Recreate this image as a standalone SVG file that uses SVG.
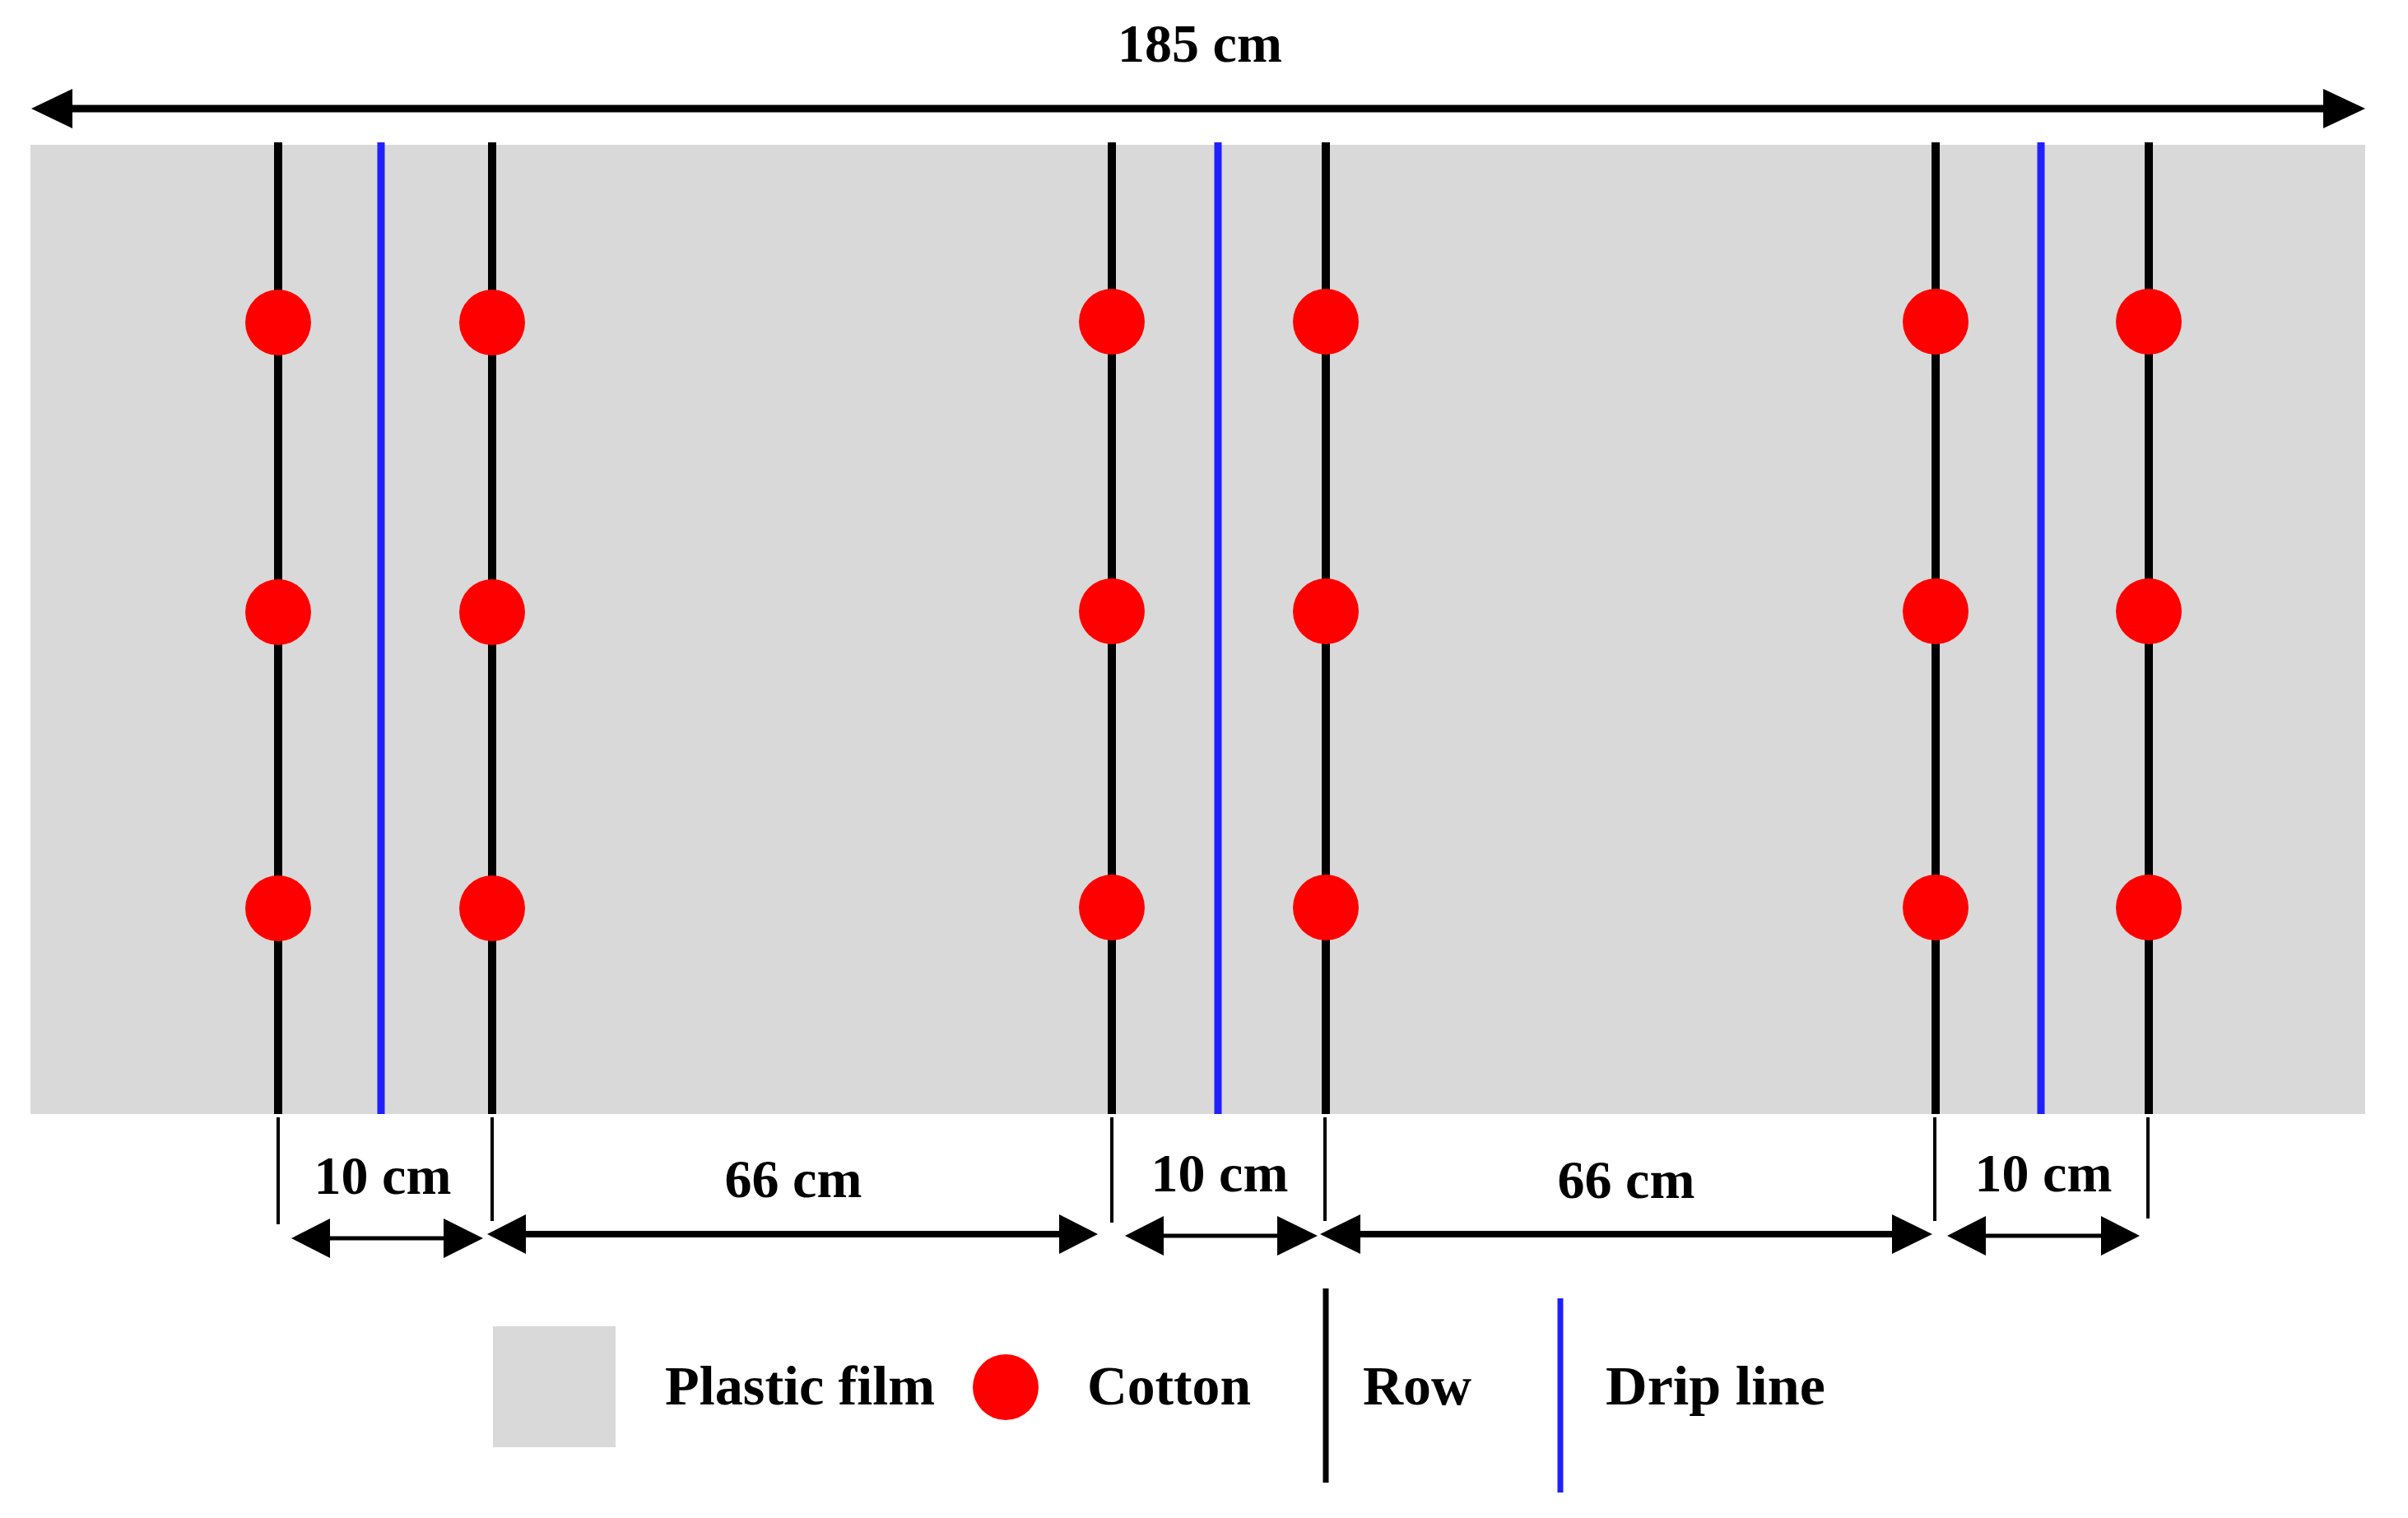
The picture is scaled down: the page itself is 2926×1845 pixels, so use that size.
<svg xmlns="http://www.w3.org/2000/svg" width="2926" height="1845" viewBox="0 0 2926 1845">
<defs>
<style>
.row{stroke:#000;stroke-width:10;fill:none}
.drip{stroke:#2020ff;stroke-width:9;fill:none}
.ext{stroke:#000;stroke-width:4;fill:none}
.cot{fill:#ff0000}
.film{fill:#d9d9d9}
.lbl{font-family:"Liberation Serif","Times New Roman",serif;font-weight:bold;font-size:66px;fill:#000}
.leg{font-family:"Liberation Serif","Times New Roman",serif;font-weight:bold;font-size:68px;fill:#000}
.ah{fill:#000}
</style>
</defs>
<rect width="2926" height="1845" fill="#fff"/>
<g id="plastic-film">
<rect class="film" x="37" y="176" width="2837" height="1178"/>
</g>
<g id="rows">
<line class="row" x1="338" y1="173" x2="338" y2="1354"/>
<line class="row" x1="598" y1="173" x2="598" y2="1354"/>
<line class="row" x1="1351" y1="173" x2="1351" y2="1354"/>
<line class="row" x1="1611" y1="173" x2="1611" y2="1354"/>
<line class="row" x1="2352" y1="173" x2="2352" y2="1354"/>
<line class="row" x1="2611" y1="173" x2="2611" y2="1354"/>
</g>
<g id="drip-lines">
<line class="drip" x1="463" y1="173" x2="463" y2="1354"/>
<line class="drip" x1="1480" y1="173" x2="1480" y2="1354"/>
<line class="drip" x1="2480" y1="173" x2="2480" y2="1354"/>
</g>
<g id="cotton">
<circle class="cot" cx="338" cy="392" r="40"/><circle class="cot" cx="598" cy="392" r="40"/>
<circle class="cot" cx="1351" cy="391" r="40"/><circle class="cot" cx="1611" cy="391" r="40"/>
<circle class="cot" cx="2352" cy="391" r="40"/><circle class="cot" cx="2611" cy="391" r="40"/>
<circle class="cot" cx="338" cy="744" r="40"/><circle class="cot" cx="598" cy="744" r="40"/>
<circle class="cot" cx="1351" cy="743" r="40"/><circle class="cot" cx="1611" cy="743" r="40"/>
<circle class="cot" cx="2352" cy="743" r="40"/><circle class="cot" cx="2611" cy="743" r="40"/>
<circle class="cot" cx="338" cy="1104" r="40"/><circle class="cot" cx="598" cy="1104" r="40"/>
<circle class="cot" cx="1351" cy="1103" r="40"/><circle class="cot" cx="1611" cy="1103" r="40"/>
<circle class="cot" cx="2352" cy="1103" r="40"/><circle class="cot" cx="2611" cy="1103" r="40"/>
</g>
<g id="connectors">
<line x1="80" y1="132" x2="2830" y2="132" stroke="#000" stroke-width="9"/>
<polygon class="ah" points="38,132 88,108 88,156"/>
<polygon class="ah" points="2874,132 2823,108 2823,156"/>
<line class="ext" x1="338" y1="1358" x2="338" y2="1488"/>
<line class="ext" x1="598" y1="1358" x2="598" y2="1484"/>
<line class="ext" x1="1351" y1="1358" x2="1351" y2="1486"/>
<line class="ext" x1="1610" y1="1358" x2="1610" y2="1484"/>
<line class="ext" x1="2351" y1="1358" x2="2351" y2="1484"/>
<line class="ext" x1="2610" y1="1358" x2="2610" y2="1481"/>
<line x1="395" y1="1505" x2="545" y2="1505" stroke="#000" stroke-width="5"/>
<polygon class="ah" points="354,1505 401,1481 401,1529"/>
<polygon class="ah" points="587,1505 539,1481 539,1529"/>
<line x1="635" y1="1500" x2="1290" y2="1500" stroke="#000" stroke-width="8"/>
<polygon class="ah" points="592,1500 639,1476 639,1524"/>
<polygon class="ah" points="1334,1500 1287,1476 1287,1524"/>
<line x1="1410" y1="1502" x2="1556" y2="1502" stroke="#000" stroke-width="5"/>
<polygon class="ah" points="1367,1502 1414,1478 1414,1526"/>
<polygon class="ah" points="1601,1502 1552,1478 1552,1526"/>
<line x1="1650" y1="1500" x2="2303" y2="1500" stroke="#000" stroke-width="8"/>
<polygon class="ah" points="1604,1500 1653,1476 1653,1524"/>
<polygon class="ah" points="2348,1500 2299,1476 2299,1524"/>
<line x1="2409" y1="1502" x2="2557" y2="1502" stroke="#000" stroke-width="5"/>
<polygon class="ah" points="2366,1502 2413,1478 2413,1526"/>
<polygon class="ah" points="2600,1502 2553,1478 2553,1526"/>
</g>
<g id="labels">
<text class="lbl" x="1458" y="75" text-anchor="middle">185 cm</text>
<text class="lbl" x="465" y="1451" text-anchor="middle">10 cm</text>
<text class="lbl" x="964" y="1455" text-anchor="middle">66 cm</text>
<text class="lbl" x="1482" y="1448" text-anchor="middle">10 cm</text>
<text class="lbl" x="1976" y="1456" text-anchor="middle">66 cm</text>
<text class="lbl" x="2483" y="1448" text-anchor="middle">10 cm</text>
</g>
<g id="legend">
<rect class="film" x="599" y="1612" width="149" height="147"/>
<text class="leg" x="808" y="1707" textLength="328" lengthAdjust="spacingAndGlyphs">Plastic film</text>
<circle class="cot" cx="1222" cy="1686" r="40"/>
<text class="leg" x="1321" y="1707" textLength="199" lengthAdjust="spacingAndGlyphs">Cotton</text>
<line x1="1611" y1="1566" x2="1611" y2="1802" stroke="#000" stroke-width="7"/>
<text class="leg" x="1656" y="1707" textLength="132" lengthAdjust="spacingAndGlyphs">Row</text>
<line x1="1896" y1="1578" x2="1896" y2="1814" stroke="#2020ff" stroke-width="7"/>
<text class="leg" x="1951" y="1707" textLength="267" lengthAdjust="spacingAndGlyphs">Drip line</text>
</g>
</svg>
